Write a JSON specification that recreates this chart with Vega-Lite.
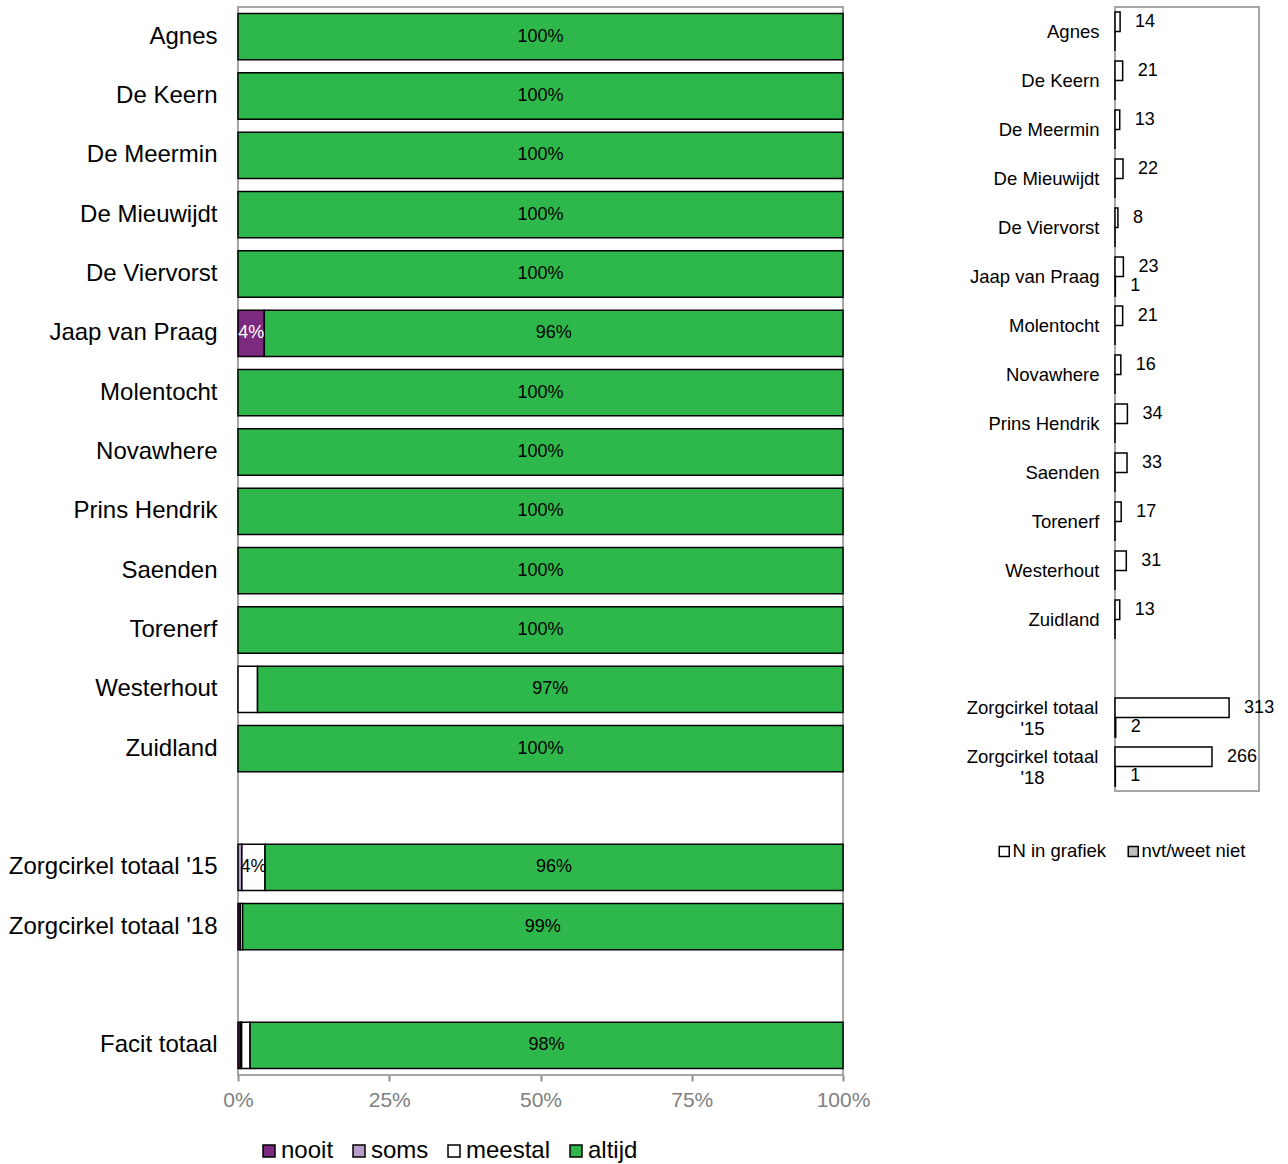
{
  "$schema": "https://vega.github.io/schema/vega-lite/v6.json",
  "padding": {"left": 7, "top": 6, "right": 0, "bottom": 0},
  "background": "white",
  "config": {
    "font": "Liberation Sans",
    "view": {"stroke": "#a6a6a6", "strokeWidth": 2},
    "axis": {"grid": false}
  },
  "datasets": {
    "pct": [
      {"school": "Agnes", "resp": "altijd", "value": 1.0},
      {"school": "De Keern", "resp": "altijd", "value": 1.0},
      {"school": "De Meermin", "resp": "altijd", "value": 1.0},
      {"school": "De Mieuwijdt", "resp": "altijd", "value": 1.0},
      {"school": "De Viervorst", "resp": "altijd", "value": 1.0},
      {"school": "Jaap van Praag", "resp": "nooit", "value": 0.0435},
      {"school": "Jaap van Praag", "resp": "altijd", "value": 0.9565},
      {"school": "Molentocht", "resp": "altijd", "value": 1.0},
      {"school": "Novawhere", "resp": "altijd", "value": 1.0},
      {"school": "Prins Hendrik", "resp": "altijd", "value": 1.0},
      {"school": "Saenden", "resp": "altijd", "value": 1.0},
      {"school": "Torenerf", "resp": "altijd", "value": 1.0},
      {"school": "Westerhout", "resp": "meestal", "value": 0.0323},
      {"school": "Westerhout", "resp": "altijd", "value": 0.9677},
      {"school": "Zuidland", "resp": "altijd", "value": 1.0},
      {"school": "Zorgcirkel totaal '15", "resp": "soms", "value": 0.0064},
      {"school": "Zorgcirkel totaal '15", "resp": "meestal", "value": 0.0383},
      {"school": "Zorgcirkel totaal '15", "resp": "altijd", "value": 0.9553},
      {"school": "Zorgcirkel totaal '18", "resp": "nooit", "value": 0.0038},
      {"school": "Zorgcirkel totaal '18", "resp": "meestal", "value": 0.0038},
      {"school": "Zorgcirkel totaal '18", "resp": "altijd", "value": 0.9924},
      {"school": "Facit totaal", "resp": "nooit", "value": 0.004},
      {"school": "Facit totaal", "resp": "soms", "value": 0.002},
      {"school": "Facit totaal", "resp": "meestal", "value": 0.014},
      {"school": "Facit totaal", "resp": "altijd", "value": 0.98}
    ],
    "counts": [
      {"school": "Agnes", "series": "N in grafiek", "n": 14},
      {"school": "Agnes", "series": "nvt/weet niet", "n": 0},
      {"school": "De Keern", "series": "N in grafiek", "n": 21},
      {"school": "De Keern", "series": "nvt/weet niet", "n": 0},
      {"school": "De Meermin", "series": "N in grafiek", "n": 13},
      {"school": "De Meermin", "series": "nvt/weet niet", "n": 0},
      {"school": "De Mieuwijdt", "series": "N in grafiek", "n": 22},
      {"school": "De Mieuwijdt", "series": "nvt/weet niet", "n": 0},
      {"school": "De Viervorst", "series": "N in grafiek", "n": 8},
      {"school": "De Viervorst", "series": "nvt/weet niet", "n": 0},
      {"school": "Jaap van Praag", "series": "N in grafiek", "n": 23},
      {"school": "Jaap van Praag", "series": "nvt/weet niet", "n": 1},
      {"school": "Molentocht", "series": "N in grafiek", "n": 21},
      {"school": "Molentocht", "series": "nvt/weet niet", "n": 0},
      {"school": "Novawhere", "series": "N in grafiek", "n": 16},
      {"school": "Novawhere", "series": "nvt/weet niet", "n": 0},
      {"school": "Prins Hendrik", "series": "N in grafiek", "n": 34},
      {"school": "Prins Hendrik", "series": "nvt/weet niet", "n": 0},
      {"school": "Saenden", "series": "N in grafiek", "n": 33},
      {"school": "Saenden", "series": "nvt/weet niet", "n": 0},
      {"school": "Torenerf", "series": "N in grafiek", "n": 17},
      {"school": "Torenerf", "series": "nvt/weet niet", "n": 0},
      {"school": "Westerhout", "series": "N in grafiek", "n": 31},
      {"school": "Westerhout", "series": "nvt/weet niet", "n": 0},
      {"school": "Zuidland", "series": "N in grafiek", "n": 13},
      {"school": "Zuidland", "series": "nvt/weet niet", "n": 0},
      {"school": "Zorgcirkel totaal '15", "series": "N in grafiek", "n": 313},
      {"school": "Zorgcirkel totaal '15", "series": "nvt/weet niet", "n": 2},
      {"school": "Zorgcirkel totaal '18", "series": "N in grafiek", "n": 266},
      {"school": "Zorgcirkel totaal '18", "series": "nvt/weet niet", "n": 1}
    ]
  },
  "hconcat": [
    {
      "width": 605,
      "height": 1068,
      "data": {"name": "pct"},
      "transform": [
        {"calculate": "indexof(['nooit','soms','meestal','altijd'], datum.resp)", "as": "ord"},
        {"stack": "value", "groupby": ["school"], "sort": [{"field": "ord", "order": "ascending"}], "as": ["v0", "v1"]},
        {"calculate": "(datum.v0 + datum.v1) / 2", "as": "mid"}
      ],
      "encoding": {
        "y": {
          "field": "school",
          "type": "nominal",
          "scale": {
            "domain": ["Agnes", "De Keern", "De Meermin", "De Mieuwijdt", "De Viervorst", "Jaap van Praag", "Molentocht", "Novawhere", "Prins Hendrik", "Saenden", "Torenerf", "Westerhout", "Zuidland", " ", "Zorgcirkel totaal '15", "Zorgcirkel totaal '18", "  ", "Facit totaal"],
            "paddingInner": 0.22,
            "paddingOuter": 0.11
          },
          "axis": {
            "title": null,
            "ticks": false,
            "domain": false,
            "labelFontSize": 24,
            "labelColor": "#000000",
            "labelPadding": 21,
            "labelLimit": 400,
            "minExtent": 228,
            "maxExtent": 228
          }
        }
      },
      "layer": [
        {
          "mark": {"type": "bar", "stroke": "#000000", "strokeWidth": 1.5},
          "encoding": {
            "x": {
              "field": "v0",
              "type": "quantitative",
              "scale": {"domain": [0, 1], "nice": false},
              "axis": {
                "title": null,
                "format": ".0%",
                "values": [0, 0.25, 0.5, 0.75, 1],
                "domain": false,
                "tickColor": "#8c8c8c",
                "tickWidth": 2,
                "tickSize": 6,
                "labelFontSize": 21,
                "labelColor": "#808080",
                "labelPadding": 8,
                "labelFlush": false
              }
            },
            "x2": {"field": "v1"},
            "color": {
              "field": "resp",
              "type": "nominal",
              "scale": {
                "domain": ["nooit", "soms", "meestal", "altijd"],
                "range": ["#7b2a80", "#b89cc9", "#ffffff", "#2eb84b"]
              },
              "legend": {
                "title": null,
                "orient": "none",
                "legendX": 19,
                "legendY": 1132,
                "padding": 0,
                "direction": "horizontal",
                "columns": 4,
                "symbolType": "square",
                "symbolSize": 144,
                "symbolStrokeColor": "#000000",
                "symbolStrokeWidth": 1.5,
                "symbolOpacity": 1,
                "labelFontSize": 24,
                "labelColor": "#000000",
                "labelOffset": 0,
                "columnPadding": 13
              }
            }
          }
        },
        {
          "transform": [{"filter": "datum.value >= 0.035"}],
          "mark": {"type": "text", "fontSize": 18, "align": "center", "baseline": "middle"},
          "encoding": {
            "x": {"field": "mid", "type": "quantitative"},
            "text": {"field": "value", "type": "quantitative", "format": ".0%"},
            "fill": {"condition": {"test": "datum.resp === 'nooit'", "value": "#ffffff"}, "value": "#000000"}
          }
        }
      ]
    },
    {
      "width": 144,
      "height": 784,
      "data": {"name": "counts"},
      "encoding": {
        "y": {
          "field": "school",
          "type": "nominal",
          "scale": {
            "domain": ["Agnes", "De Keern", "De Meermin", "De Mieuwijdt", "De Viervorst", "Jaap van Praag", "Molentocht", "Novawhere", "Prins Hendrik", "Saenden", "Torenerf", "Westerhout", "Zuidland", " ", "Zorgcirkel totaal '15", "Zorgcirkel totaal '18"],
            "paddingInner": 0.2,
            "paddingOuter": 0.1
          },
          "axis": {
            "title": null,
            "ticks": false,
            "domain": false,
            "labelFontSize": 18.5,
            "labelColor": "#000000",
            "labelPadding": {"condition": {"test": "indexof(datum.label, 'Zorgcirkel') == 0", "value": 83}, "value": 16},
            "labelAlign": {"condition": {"test": "indexof(datum.label, 'Zorgcirkel') == 0", "value": "center"}, "value": "right"},
            "labelOffset": {"condition": {"test": "indexof(datum.label, 'Zorgcirkel') == 0", "value": -10}, "value": 0},
            "labelLineHeight": 21,
            "labelLimit": 300,
            "labelExpr": "indexof(datum.label, 'Zorgcirkel') == 0 ? ['Zorgcirkel totaal', substring(datum.label, 18)] : datum.label",
            "minExtent": 150,
            "maxExtent": 150
          }
        },
        "yOffset": {
          "field": "series",
          "type": "nominal",
          "scale": {"domain": ["N in grafiek", "nvt/weet niet"], "paddingInner": 0, "paddingOuter": 0}
        },
        "x": {
          "field": "n",
          "type": "quantitative",
          "scale": {"domain": [0, 395], "nice": false},
          "axis": null
        }
      },
      "layer": [
        {
          "mark": {"type": "bar", "stroke": "#000000", "strokeWidth": 1.5},
          "encoding": {
            "color": {
              "field": "series",
              "type": "nominal",
              "scale": {"domain": ["N in grafiek", "nvt/weet niet"], "range": ["#ffffff", "#bfbfbf"]},
              "legend": {
                "title": null,
                "orient": "none",
                "legendX": -120,
                "legendY": 835,
                "padding": 0,
                "direction": "horizontal",
                "columns": 2,
                "symbolType": "square",
                "symbolSize": 100,
                "symbolStrokeColor": "#000000",
                "symbolStrokeWidth": 1.5,
                "symbolOpacity": 1,
                "labelFontSize": 18.5,
                "labelColor": "#000000",
                "labelOffset": -1,
                "columnPadding": 17
              }
            }
          }
        },
        {
          "transform": [{"filter": "datum.n > 0"}],
          "mark": {"type": "text", "fontSize": 18, "align": "left", "baseline": "middle", "dx": 15, "color": "#000000"},
          "encoding": {
            "text": {"field": "n", "type": "quantitative"}
          }
        }
      ]
    }
  ],
  "spacing": 93,
  "resolve": {"scale": {"color": "independent", "y": "independent", "x": "independent"}, "legend": {"color": "independent"}}
}
